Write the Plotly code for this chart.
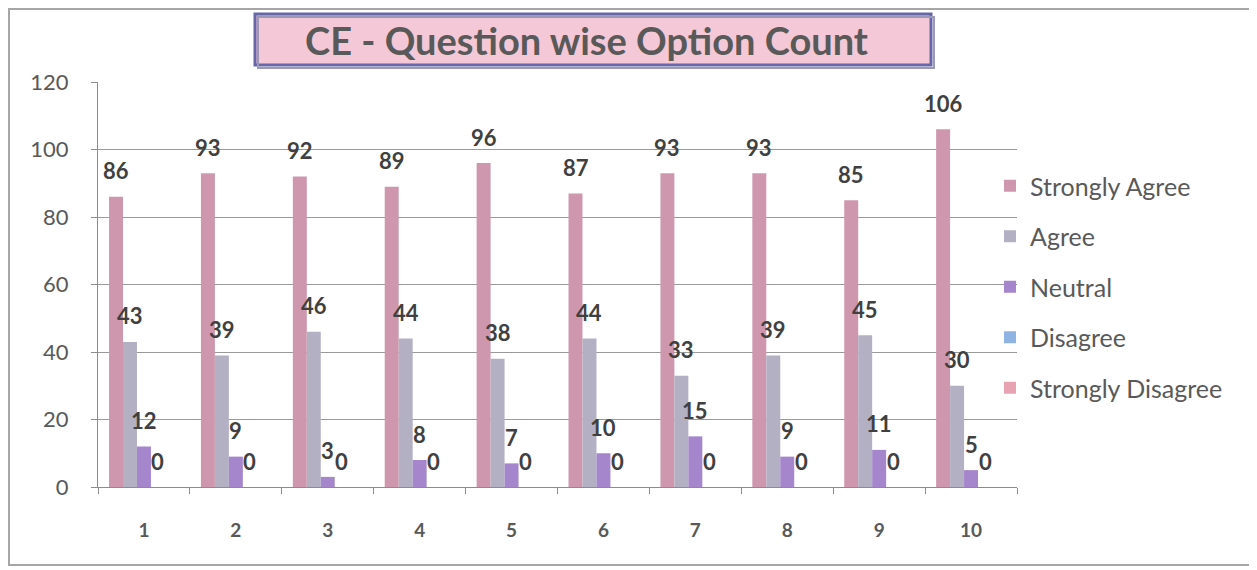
import plotly.graph_objects as go

# ---- data ----
questions = ["1", "2", "3", "4", "5", "6", "7", "8", "9", "10"]
series_names = ["Strongly Agree", "Agree", "Neutral", "Disagree", "Strongly Disagree"]
strongly_agree = [86, 93, 92, 89, 96, 87, 93, 93, 85, 106]
agree = [43, 39, 46, 44, 38, 44, 33, 39, 45, 30]
neutral = [12, 9, 3, 8, 7, 10, 15, 9, 11, 5]
disagree = [0, 0, 0, 0, 0, 0, 0, 0, 0, 0]
strongly_disagree = [0, 0, 0, 0, 0, 0, 0, 0, 0, 0]
y_ticks = [0, 20, 40, 60, 80, 100, 120]

series_values = [strongly_agree, agree, neutral, disagree, strongly_disagree]
colors = ["#cf97ad", "#b3b0c4", "#a585cc", "#8fb4e3", "#e8a3b3"]
show_labels = [True, True, True, True, False]

# page body has an 8px default margin
OFF = 8
W, H = 1257 - OFF, 570 - OFF
L = 98 - OFF
T = 82 - OFF
R = W - (1017 - OFF)
B = H - (487 - OFF)
FONT = "Lato, 'Open Sans', sans-serif"

pw = W - L - R
ph = H - T - B
def px2x(p):
    return (p - OFF - L) / pw
def py2y(p):
    return (H - B - (p - OFF)) / ph

fig = go.Figure()
for i, (name, vals) in enumerate(zip(series_names, series_values)):
    fig.add_trace(go.Bar(
        x=questions, y=vals, name=name, marker_color=colors[i],
        marker_line_width=0, legendgroup=name,
    ))

# data labels
bargap = 0.24
bw = (1 - bargap) / len(series_names)
annotations = []
for i, vals in enumerate(series_values):
    if not show_labels[i]:
        continue
    for j, v in enumerate(vals):
        annotations.append(dict(
            x=j + (i - 2) * bw, y=v, xref="x", yref="y",
            text=f"<b>{v}</b>", showarrow=False,
            font=dict(family=FONT, size=22, color="#404040"),
            yanchor="middle", yshift=26,
        ))

# title
annotations.append(dict(
    x=px2x(586), y=py2y(40), xref="paper", yref="paper",
    text="<b>CE - Question wise Option Count</b>", showarrow=False,
    font=dict(family=FONT, size=38, color="#595959"),
    xanchor="center", yanchor="middle",
))

shapes = [
    # outer chart border
    dict(type="rect", xref="paper", yref="paper",
         x0=px2x(9), x1=px2x(1251), y0=py2y(565), y1=py2y(9),
         line=dict(color="#a6a6a6", width=2), fillcolor="rgba(0,0,0,0)", layer="below"),
    # title box shadow
    dict(type="rect", xref="paper", yref="paper",
         x0=px2x(258), x1=px2x(934), y0=py2y(68), y1=py2y(17),
         line=dict(color="#9a9ab8", width=2), fillcolor="rgba(0,0,0,0)", layer="above"),
    # title box
    dict(type="rect", xref="paper", yref="paper",
         x0=px2x(255), x1=px2x(931), y0=py2y(65), y1=py2y(14),
         line=dict(color="#6666a8", width=3), fillcolor="#f4c8d6", layer="below"),
]

fig.update_layout(
    width=W, height=H,
    margin=dict(l=L, r=R, t=T, b=B),
    paper_bgcolor="white", plot_bgcolor="white",
    barmode="group", bargap=bargap, bargroupgap=0,
    font=dict(family=FONT, color="#595959"),
    showlegend=True,
    legend=dict(
        x=px2x(990), y=py2y(163), xanchor="left", yanchor="top",
        font=dict(family=FONT, size=25, color="#595959"),
        tracegroupgap=15, traceorder="grouped",
        bgcolor="rgba(0,0,0,0)",
    ),
    annotations=annotations,
    shapes=shapes,
)
fig.update_xaxes(
    type="category", tickson="boundaries", ticks="outside", ticklen=6,
    tickcolor="#8c8c8c", showline=True, linecolor="#8c8c8c", linewidth=1,
    showgrid=False, ticklabelstandoff=26,
    tickfont=dict(family=FONT, size=19, color="#595959", weight="bold"),
)
fig.update_yaxes(
    range=[0, 120], tickvals=y_ticks, ticks="outside", ticklen=6,
    tickcolor="#8c8c8c", showline=True, linecolor="#8c8c8c", linewidth=1,
    showgrid=True, gridcolor="#9a9a9a", gridwidth=1, zeroline=False,
    ticklabelstandoff=18,
    tickfont=dict(family=FONT, size=22, color="#595959"),
)

fig.write_html("out.html")
